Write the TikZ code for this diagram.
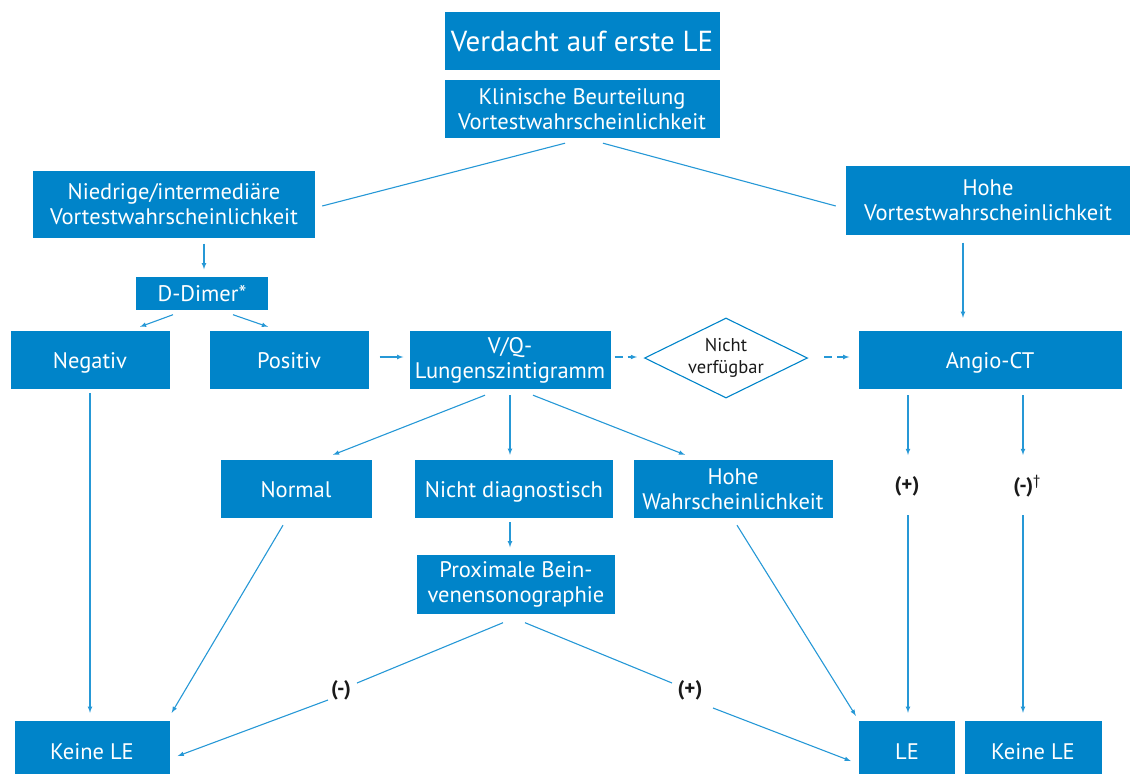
\documentclass[tikz,border=0pt]{standalone}
\usepackage{fontspec}
\setmainfont{PT Sans}
\usetikzlibrary{shapes.geometric}
\definecolor{boxblue}{RGB}{0,132,201}
\definecolor{linkblue}{RGB}{38,152,214}
\definecolor{labtext}{RGB}{26,26,26}
\tikzset{
  box/.style={fill=boxblue,text=white,align=center,inner sep=0pt,
    font=\fontsize{22.5}{25}\selectfont},
  oneline/.style={box,text height=17pt,text depth=0pt},
  link/.style={draw=linkblue,line width=1.1pt},
  arr/.style={link,-latex},
  lab/.style={inner sep=0pt,minimum width=32pt,minimum height=60pt,
    text=labtext,font=\fontsize{21}{22}\selectfont\bfseries}
}
\begin{document}
\begin{tikzpicture}[x=1pt,y=-1pt]
  \useasboundingbox (0,0) rectangle (1133,774);
  % boxes
  \node[oneline,minimum width=275,minimum height=58,text height=21pt,
    font=\fontsize{29}{32}\selectfont] (title) at (582,41) {Verdacht auf erste LE};
  \node[box,minimum width=275,minimum height=58] (klin) at (582,109)
    {Klinische Beurteilung\\Vortestwahrscheinlichkeit};
  \node[box,minimum width=282,minimum height=67] (nied) at (174,204)
    {Niedrige/intermediäre\\Vortestwahrscheinlichkeit};
  \node[box,minimum width=284,minimum height=69] (hohe) at (988,200)
    {Hohe\\Vortestwahrscheinlichkeit};
  \node[oneline,minimum width=132,minimum height=33] (ddim) at (202,293) {D-Dimer*};
  \node[oneline,minimum width=159,minimum height=58] (neg) at (90,360) {Negativ};
  \node[oneline,minimum width=159,minimum height=58] (pos) at (289,360) {Positiv};
  \node[box,minimum width=201,minimum height=58] (vq) at (510,360)
    {V/Q-\\Lungenszintigramm};
  \node[draw=boxblue,line width=1.1pt,diamond,aspect=2,inner sep=0pt,
    minimum width=163,minimum height=80,align=center,text=labtext,
    font=\fontsize{18.5}{22}\selectfont] (dia) at (726,358) {Nicht\\verfügbar};
  \node[oneline,minimum width=263,minimum height=58] (angio) at (990,360) {Angio-CT};
  \node[oneline,minimum width=151,minimum height=58] (norm) at (296,489) {Normal};
  \node[oneline,minimum width=198,minimum height=58] (nd) at (514,489) {Nicht diagnostisch};
  \node[box,minimum width=199,minimum height=58] (hw) at (733,489)
    {Hohe\\Wahrscheinlichkeit};
  \node[box,minimum width=198,minimum height=59] (prox) at (516,584)
    {Proximale Bein-\\venensonographie};
  \node[oneline,minimum width=155,minimum height=60] (kle) at (92,751) {Keine LE};
  \node[oneline,minimum width=96,minimum height=60] (le) at (907,751) {LE};
  \node[oneline,minimum width=137,minimum height=60] (kre) at (1033,751) {Keine LE};
  % labels
  \node[lab] (pa) at (907,486) {(+)};
  \node[lab] (ma) at (1027,486) {(-)\textsuperscript{\normalfont\dag}};
  \node[lab] (ms) at (341,690) {(-)};
  \node[lab] (ps) at (690,690) {(+)};
  % connectors
  \draw[link] ([shift={(-17,5)}]klin.south) -- ([shift={(7,2)}]nied.east);
  \draw[link] ([shift={(21,5)}]klin.south) -- ([shift={(-10,6)}]hohe.west);
  \draw[arr] ([shift={(30,6)}]nied.south) -- ([shift={(2,-7)}]ddim.north);
  \draw[arr] ([shift={(-29,5)}]ddim.south) -- ([shift={(50,-4)}]neg.north);
  \draw[arr] ([shift={(31,5)}]ddim.south) -- ([shift={(-21,-4)}]pos.north);
  \draw[arr] ([shift={(11,-3)}]pos.east) -- ([shift={(-6,-3)}]vq.west);
  \draw[arr,dash pattern=on 8pt off 5pt] ([shift={(4,-3)}]vq.east) -- ([shift={(-7,-1)}]dia.west);
  \draw[arr,dash pattern=on 8pt off 5pt] ([shift={(16,-1)}]dia.east) -- ([shift={(-9,-3)}]angio.west);
  \draw[arr] ([shift={(-25,8)}]hohe.south) -- ([shift={(-27,-13)}]angio.north);
  \draw[arr] ([shift={(0,4)}]neg.south) -- ([shift={(-2,-8)}]kle.north);
  \draw[arr] ([shift={(-25,6)}]vq.south) -- ([shift={(37,-5)}]norm.north);
  \draw[arr] ([shift={(0,6)}]vq.south) -- ([shift={(-4,-5)}]nd.north);
  \draw[arr] ([shift={(23,6)}]vq.south) -- ([shift={(-48,-5)}]hw.north);
  \draw[arr] ([shift={(-4,4)}]nd.south) -- ([shift={(-6,-7)}]prox.north);
  \draw[arr] ([shift={(-13,7)}]norm.south) -- ([shift={(2,-8)}]kle.north east);
  \draw[link] ([shift={(-13,9)}]prox.south) -- ([shift={(16,-7)}]ms.center);
  \draw[arr] ([shift={(-13,10)}]ms.center) -- ([shift={(8,5)}]kle.east);
  \draw[link] ([shift={(9,9)}]prox.south) -- ([shift={(-18,-7)}]ps.center);
  \draw[arr] ([shift={(23,18)}]ps.center) -- ([shift={(-8,10)}]le.west);
  \draw[arr] ([shift={(4,7)}]hw.south) -- ([shift={(-3,-5)}]le.north west);
  \draw[arr] ([shift={(-82,6)}]angio.south) -- ([shift={(1,-31)}]pa.center);
  \draw[arr] ([shift={(1,29)}]pa.center) -- ([shift={(1,-8)}]le.north);
  \draw[arr] ([shift={(33,6)}]angio.south) -- ([shift={(-4,-31)}]ma.center);
  \draw[arr] ([shift={(-4,29)}]ma.center) -- ([shift={(-10,-8)}]kre.north);
\end{tikzpicture}
\end{document}
